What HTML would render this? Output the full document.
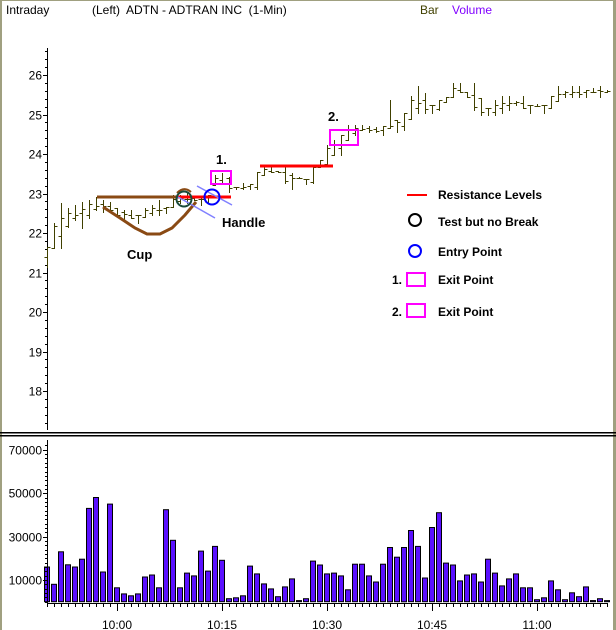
<!DOCTYPE html>
<html><head><meta charset="utf-8"><style>
html,body{margin:0;padding:0;background:#fff;}
svg{display:block;font-family:"Liberation Sans",sans-serif;}
</style></head><body>
<svg id="c" width="616" height="630" viewBox="0 0 616 630" xmlns="http://www.w3.org/2000/svg">
<rect x="0" y="0" width="616" height="630" fill="#fff"/>
<rect x="0" y="0" width="2" height="630" fill="#a0a080"/>
<rect x="613" y="0" width="3" height="630" fill="#a0a080"/>
<rect x="0" y="0" width="616" height="1" fill="#a0a080"/>
<text x="6" y="14" font-size="12">Intraday</text>
<text x="92" y="14" font-size="12" xml:space="preserve">(Left)  ADTN - ADTRAN INC  (1-Min)</text>
<text x="420" y="14" font-size="12" fill="#404000">Bar</text>
<text x="452" y="14" font-size="12" fill="#8000ff">Volume</text>
<rect x="0" y="432" width="616" height="1.5" fill="#000"/>
<rect x="0" y="435" width="616" height="1.5" fill="#000"/>
<g id="g"></g>
</svg>
<script>
var g=document.getElementById('g'),s='';
function L(x1,y1,x2,y2,c,w){s+='<line x1="'+x1+'" y1="'+y1+'" x2="'+x2+'" y2="'+y2+'" stroke="'+c+'" stroke-width="'+(w||1)+'"/>';}
function T(x,y,t,o){s+='<text x="'+x+'" y="'+y+'" '+(o||'')+'>'+t+'</text>';}
// price axis
L(47.5,48,47.5,430,'#000');
for(var p=17.2;p<=27.5;p+=0.2){var y=Math.round(75+(26-p)*39.5)+0.5;if(y<48||y>430)continue;var maj=Math.abs(p-Math.round(p))<0.01;L(maj?43:45,y,47,y,'#000');if(maj)T(42,y+4,Math.round(p),'font-size="12" text-anchor="end"');}
// price bars [high,low]
var B=[[247,267],[223,248],[203,248],[208,227],[205,220],[202,228],[200,218],[197,210],[200,212],[202,210],[208,215],[210,220],[210,218],[215,223],[208,217],[205,215],[200,215],[207,213],[195,207],[195,203],[192,203],[197,200],[198,205],[195,203],[175,185],[173,183],[177,192],
[187,189],[183,189],[184,189],[172,189],[167,175],[166,172],[171,172],[167,183],[173,189],[177,178],[179,184],[167,183],[160,167],[145,166],[140,155],[135,155],[125,140],[125,135],[125,130],[126,132],[127,132],[126,135],[100,128],[120,132],[113,130],[96,119],
[86,113],[93,113],[105,113],[100,110],[97,102],[83,97],[83,92],[92,97],[83,110],[98,115],[108,115],[100,115],[96,113],[96,110],[101,105],[96,108],[105,113],[104,106],[105,113],[96,108],[86,101],[91,97],[86,97],[86,97],[90,97],[88,92],[86,97],[90,92]];
var oc='#404000';
for(var i=0;i<B.length;i++){var x=47+7*i+0.5,h=B[i][0],l=B[i][1];L(x,h,x,l+1,oc);
var nx=B[i+1]?(B[i+1][0]+B[i+1][1])/2:(h+l)/2,pv=B[i-1]?(B[i-1][0]+B[i-1][1])/2:(h+l)/2;
var o=Math.max(h,Math.min(l,Math.round(pv))),c=Math.max(h,Math.min(l,Math.round(nx)));
L(x-3,o+0.5,x,o+0.5,oc);L(x,c+0.5,x+3,c+0.5,oc);}
// volume
var V=[16,8,23,17,16,19.6,43,48,13.7,45,6.4,3.6,2.7,3.6,11.4,12.3,6.4,42.4,28.3,6.4,13.2,11.9,23.3,14.1,25.5,19.1,1.4,1.8,2.7,16.4,12.8,8.2,5.9,2.3,6.8,10.5,0.5,1.4,18.7,16.9,12.8,13.2,11.9,5.5,17.3,17.3,11.9,9.1,17.3,25,20.5,25,32.8,25.5,10.9,34.2,41,17.8,16.9,9.6,12.3,12.8,9.1,19.6,13.2,7.3,10.5,12.8,6.4,6.4,0.9,1.8,9.6,5.5,0.9,4.1,2.3,6.8,0.5,1.4,0.5];
for(var i=0;i<V.length;i++){var x=47+7*i,hh=V[i]*2.17,y=601.7-hh;s+='<rect x="'+(x-2.5)+'" y="'+y.toFixed(1)+'" width="5" height="'+hh.toFixed(1)+'" fill="#5a10ff" stroke="#000" stroke-width="1"/>';}
L(47.5,440,47.5,603,'#000');
for(var v=0;v<=72000;v+=2000){var y=Math.round(601.7-v*0.00217)+0.5;var maj=v%20000==10000;L(maj?43:45,y,47,y,'#000');if(maj)T(42,y+4,v,'font-size="12" text-anchor="end"');}
L(47,603.5,608,603.5,'#000');
for(var i=0;i<81;i++){var x=47+7*i+0.5;L(x,603,x,(i%15==10)?611:607,'#000');}
var lab=['10:00','10:15','10:30','10:45','11:00'];
for(var k=0;k<5;k++)T(117+105*k,629,lab[k],'font-size="12" text-anchor="middle"');
// annotations
var br='#8a4a14';
L(97,197,180,197,br,3);
s+='<polyline points="103,207 120,218 135,228 147,234 160,234 172,228 185,215 196,202" fill="none" stroke="'+br+'" stroke-width="3"/>';
s+='<path d="M177,193 Q184,186 191,192" fill="none" stroke="'+br+'" stroke-width="2"/>';
L(178,197,231,197,'#ff0000',3);
L(178,197,215,218,'#8080ff',1.5);L(197,186,232,205,'#8080ff',1.5);
s+='<circle cx="184" cy="199" r="7.5" fill="none" stroke="#1a4a3a" stroke-width="2"/>';
s+='<circle cx="212" cy="197" r="7.5" fill="none" stroke="#0000ff" stroke-width="2"/>';
s+='<rect x="211" y="171" width="20" height="13" fill="none" stroke="#ff00ff" stroke-width="2"/>';
T(216,164,'1.','font-size="13" font-weight="bold"');
L(260,166,333,166,'#ff0000',3);
s+='<rect x="330" y="130" width="28" height="15" fill="none" stroke="#ff00ff" stroke-width="2"/>';
T(328,121,'2.','font-size="13" font-weight="bold"');
T(127,259,'Cup','font-size="13" font-weight="bold"');
T(222,227,'Handle','font-size="13" font-weight="bold"');
// legend
L(407,195,427,195,'#ff0000',2);T(438,199,'Resistance Levels','font-size="12" font-weight="bold"');
s+='<circle cx="415" cy="220" r="6" fill="none" stroke="#000" stroke-width="2"/>';T(438,226,'Test but no Break','font-size="12" font-weight="bold"');
s+='<circle cx="415" cy="251" r="6" fill="none" stroke="#0000ff" stroke-width="2"/>';T(438,256,'Entry Point','font-size="12" font-weight="bold"');
T(392,284,'1.','font-size="12" font-weight="bold"');s+='<rect x="407" y="273" width="18" height="13" fill="none" stroke="#ff00ff" stroke-width="2"/>';T(438,284,'Exit Point','font-size="12" font-weight="bold"');
T(392,316,'2.','font-size="12" font-weight="bold"');s+='<rect x="407" y="304" width="18" height="13" fill="none" stroke="#ff00ff" stroke-width="2"/>';T(438,316,'Exit Point','font-size="12" font-weight="bold"');
g.innerHTML=s;
</script>
</body></html>
